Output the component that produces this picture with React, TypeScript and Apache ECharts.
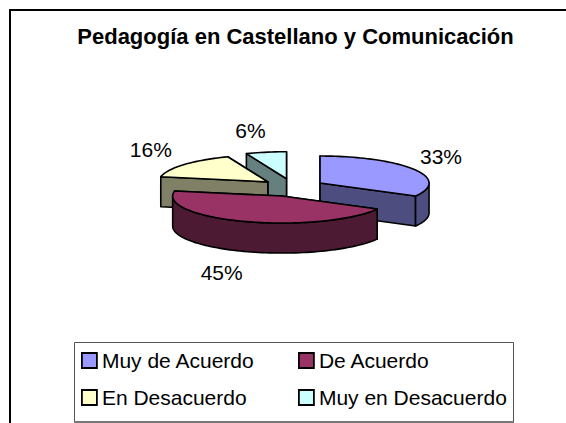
import React, { useEffect, useRef } from "react";
import * as echarts from "echarts";

const titleText = "Pedagogía en Castellano y Comunicación";
const categories = ["Muy de Acuerdo", "De Acuerdo", "En Desacuerdo", "Muy en Desacuerdo"];
const values = [33, 45, 16, 6];
const topColors = ["#9999FF", "#993366", "#FFFFCC", "#CCFFFF"];
const wallColors = ["#4D4D80", "#4D1A33", "#808066", "#668080"];
const paintOrder = [3, 4, 2, 1];
const labelOffsets = [[121, -27], [-60, 76], [-117, -32], [-36, -48]];

const CX = 292.5, CY = 187.6, RX = 109, RY = 27, DEPTH = 30, EX = 32, EY = 9;
const FONT = '"Liberation Sans", Arial, sans-serif';
const STROKE = { stroke: "#000", lineWidth: 1.6, lineJoin: "round" as const };

function renderSlice(index: number) {
  return (_params: any, api: any) => {
    const value = api.value(0);
    const total = values.reduce((a, b) => a + b, 0);
    const before = values.slice(0, index).reduce((a, b) => a + b, 0);
    const a0 = (before / total) * Math.PI * 2;
    const a1 = a0 + (value / total) * Math.PI * 2;
    const mid = (a0 + a1) / 2;
    const ax = CX + EX * Math.sin(mid);
    const ay = CY - EY * Math.cos(mid);
    const rim = (a: number, d = 0) => [ax + RX * Math.sin(a), ay - RY * Math.cos(a) + d];
    const arc = (from: number, to: number, d = 0) => {
      const n = Math.max(2, Math.ceil((to - from) / 0.035));
      const pts: number[][] = [];
      for (let i = 0; i <= n; i++) pts.push(rim(from + ((to - from) * i) / n, d));
      return pts;
    };
    const poly = (points: number[][], fill: string) => ({
      type: "polygon",
      shape: { points },
      style: { fill, ...STROKE },
    });
    const radial = (a: number) =>
      poly([[ax, ay], rim(a), rim(a, DEPTH), [ax, ay + DEPTH]], wallColors[index]);

    const children: any[] = [];
    const startFront = Math.sin(a0) < -1e-6;
    const endFront = Math.sin(a1) > 1e-6;
    if (!startFront) children.push(radial(a0));
    if (!endFront) children.push(radial(a1));
    if (startFront) children.push(radial(a0));
    if (endFront) children.push(radial(a1));
    const lo = Math.max(a0, Math.PI / 2);
    const hi = Math.min(a1, (Math.PI * 3) / 2);
    if (hi > lo) {
      children.push(poly([...arc(lo, hi), ...arc(lo, hi, DEPTH).reverse()], wallColors[index]));
    }
    children.push(poly([[ax, ay], ...arc(a0, a1)], topColors[index]));
    children.push({
      type: "text",
      z2: 10,
      style: {
        text: `${value}%`,
        x: ax + labelOffsets[index][0],
        y: ay + labelOffsets[index][1],
        align: "center",
        verticalAlign: "middle",
        font: `21px ${FONT}`,
        fill: "#000",
      },
    });
    return { type: "group", children };
  };
}

const legendEntry = (i: number) => ({
  name: categories[i],
  icon: "rect",
  itemStyle: { color: topColors[i], borderColor: "#000", borderWidth: 1.8 },
});

const legendBase = {
  orient: "vertical" as const,
  padding: 0,
  itemWidth: 15,
  itemHeight: 15,
  itemGap: 16,
  selectedMode: false,
  textStyle: { fontFamily: FONT, fontSize: 21, color: "#000" },
};

export default function App() {
  const ref = useRef<HTMLDivElement>(null);
  useEffect(() => {
    const chart = echarts.init(ref.current!, undefined, { renderer: "svg" });
    chart.setOption({
      animation: false,
      backgroundColor: "#fff",
      title: {
        text: titleText,
        left: 290.5,
        top: 20,
        textAlign: "center",
        textStyle: { fontFamily: FONT, fontSize: 22, fontWeight: "bold", color: "#000" },
      },
      legend: [
        { ...legendBase, left: 81, top: 350, data: [legendEntry(0), legendEntry(2)] },
        { ...legendBase, left: 298, top: 350, data: [legendEntry(1), legendEntry(3)] },
      ],
      graphic: [
        {
          type: "rect",
          silent: true,
          z: -1,
          shape: { x: 10, y: 10, width: 700, height: 500 },
          style: { fill: "#fff", stroke: "#000", lineWidth: 2 },
        },
        {
          type: "rect",
          silent: true,
          z: -1,
          shape: { x: 74.5, y: 342.5, width: 439, height: 79 },
          style: { fill: "#fff", stroke: "#555", lineWidth: 1 },
        },
        {
          type: "line",
          silent: true,
          z: -1,
          shape: { x1: 74, y1: 422, x2: 514, y2: 422 },
          style: { stroke: "#777", lineWidth: 2 },
        },
      ],
      series: categories.map((name, i) => ({
        type: "custom",
        name,
        coordinateSystem: "none",
        z: paintOrder[i],
        itemStyle: { color: topColors[i] },
        data: [[values[i]]],
        renderItem: renderSlice(i),
      })),
    });
    return () => chart.dispose();
  }, []);
  return <div ref={ref} style={{ position: "fixed", left: 0, top: 0, width: 566, height: 423 }} />;
}
